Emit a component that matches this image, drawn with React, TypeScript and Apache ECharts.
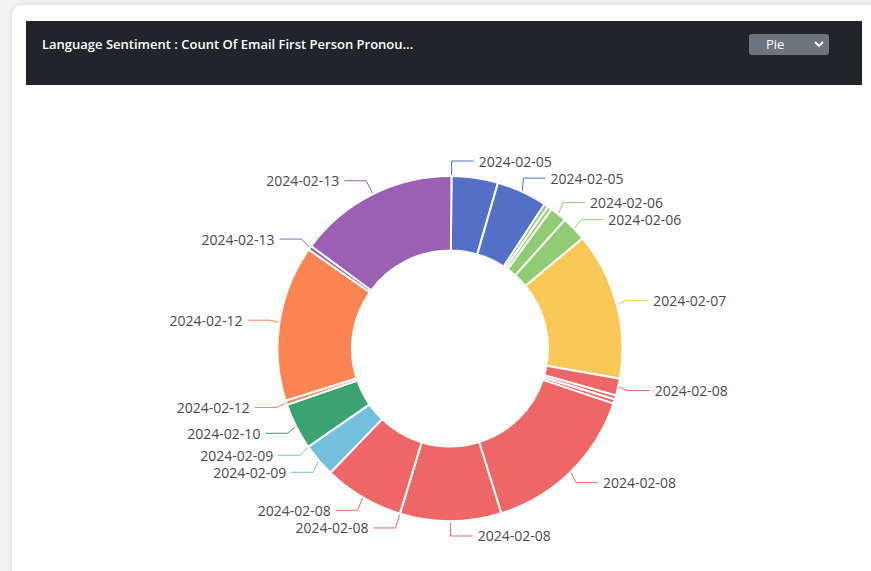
import React, { useEffect, useRef } from "react";
import * as echarts from "echarts";

const TITLE = "Language Sentiment : Count Of Email First Person Pronou...";
const SELECT_LABEL = "Pie";

// slices in clockwise order starting at 12 o'clock
const sliceDates = [
  "2024-02-05", "2024-02-05", "2024-02-05",
  "2024-02-06", "2024-02-06", "2024-02-06", "2024-02-06",
  "2024-02-07",
  "2024-02-08", "2024-02-08", "2024-02-08", "2024-02-08", "2024-02-08", "2024-02-08", "2024-02-08",
  "2024-02-09", "2024-02-09",
  "2024-02-10",
  "2024-02-12", "2024-02-12",
  "2024-02-13", "2024-02-13",
];
const sliceCounts = [
  0, 11, 12,
  1, 1, 4, 6,
  35,
  4, 1, 1, 38, 24, 0, 19,
  8, 0,
  11,
  1, 37,
  1, 38,
];
// slices whose labels are not shown in the reference
const hiddenLabelIndex = [1, 3, 4, 9, 10];

const dateOrder = [
  "2024-02-05", "2024-02-06", "2024-02-07", "2024-02-08",
  "2024-02-09", "2024-02-10", "2024-02-12", "2024-02-13",
];
const palette = ["#5470c6", "#91cc75", "#fac858", "#ee6666", "#73c0de", "#3ba272", "#fc8452", "#9a60b4"];

function Chart() {
  const ref = useRef<HTMLDivElement>(null);
  useEffect(() => {
    if (!ref.current) return;
    const chart = echarts.init(ref.current, undefined, { renderer: "svg" });
    const data = sliceDates.map((d, i) => {
      const color = palette[dateOrder.indexOf(d)];
      const hidden = hiddenLabelIndex.includes(i);
      return {
        name: d,
        value: sliceCounts[i],
        itemStyle: { color },
        label: { show: !hidden },
        labelLine: { show: !hidden },
      };
    });
    chart.setOption({
      animation: false,
      series: [
        {
          type: "pie",
          center: [424, 263.5],
          radius: [98, 172.5],
          startAngle: 89.5,
          clockwise: true,
          avoidLabelOverlap: true,
          itemStyle: { borderColor: "#fff", borderWidth: 2 },
          label: {
            position: "outside",
            color: "#4a4a4a",
            fontSize: 14,
            lineHeight: 15,
            fontFamily: "Open Sans",
            formatter: "{b}",
          },
          labelLine: { length: 15, length2: 22, lineStyle: { width: 1 } },
          data,
        },
      ],
    });
    return () => chart.dispose();
  }, []);
  return (
    <div
      ref={ref}
      style={{ position: "absolute", left: 26, top: 85, width: 836, height: 486 }}
    />
  );
}

export default function App() {
  return (
    <div
      style={{
        position: "fixed",
        left: 0,
        top: 0,
        width: 871,
        height: 571,
        background: "#f3f3f3",
        overflow: "hidden",
        fontFamily: "'Open Sans', sans-serif",
      }}
    >
      <div
        style={{
          position: "absolute",
          left: 12,
          top: 5,
          width: 880,
          height: 600,
          background: "#ffffff",
          borderRadius: 10,
          boxShadow: "0 0 6px rgba(0,0,0,0.12)",
        }}
      />
      <div
        style={{
          position: "absolute",
          left: 26,
          top: 21,
          width: 836,
          height: 64,
          background: "#212529",
        }}
      >
        <div
          style={{
            position: "absolute",
            left: 16,
            top: 14,
            color: "#ffffff",
            fontSize: 13,
            fontWeight: 600,
            whiteSpace: "nowrap",
          }}
        >
          {TITLE}
        </div>
        <div
          style={{
            position: "absolute",
            left: 723,
            top: 13,
            width: 80,
            height: 21,
            background: "#6c757d",
            borderRadius: 3,
            color: "#ffffff",
            fontSize: 13,
          }}
        >
          <span style={{ position: "absolute", left: 17, top: 1 }}>{SELECT_LABEL}</span>
          <svg
            width="10"
            height="7"
            viewBox="0 0 10 7"
            style={{ position: "absolute", left: 65, top: 7 }}
          >
            <polyline points="1,1 5,5 9,1" fill="none" stroke="#ffffff" strokeWidth="1.8" />
          </svg>
        </div>
      </div>
      <Chart />
    </div>
  );
}
